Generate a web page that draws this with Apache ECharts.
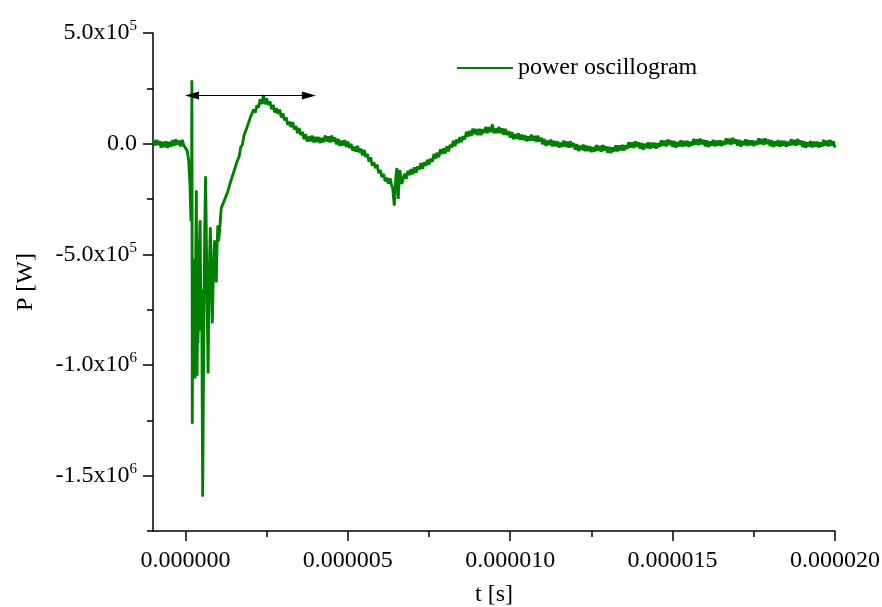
<!DOCTYPE html>
<html>
<head>
<meta charset="utf-8">
<script src="https://cdn.jsdelivr.net/npm/echarts@6/dist/echarts.min.js"></script>
<style>html,body{margin:0;padding:0;background:#fff}#c{width:882px;height:607px}</style>
</head>
<body>
<div id="c"></div>
<script>
// time in microseconds, power in kW  (pairs [t_us, P_kW])
const baseline = [[-1.00,14],[-0.95,-9],[-0.90,17],[-0.85,-6],[-0.80,12],[-0.75,-18],[-0.70,8],[-0.65,-15],[-0.60,11],[-0.55,-19],[-0.50,7],[-0.45,-13],[-0.40,16],[-0.35,-10],[-0.30,20],[-0.25,-5],[-0.20,14],[-0.15,-12],[-0.10,17],[-0.05,-9],[0.00,-15]];
const collapse = [[0.05,-30],[0.1,-80],[0.14,-190],[0.17,-350],[0.185,-240],[0.19,-150],[0.197,287],[0.203,-200],[0.21,-1265],[0.218,-620],[0.226,-980],[0.234,-560],[0.242,-1010],[0.25,-600],[0.26,-900],[0.27,-520],[0.283,-980],[0.296,-1061],[0.31,-640],[0.333,-210],[0.345,-560],[0.357,-1049],[0.37,-780],[0.385,-900],[0.404,-708],[0.42,-520],[0.45,-346],[0.465,-620],[0.48,-844],[0.50,-660],[0.53,-1595],[0.56,-920],[0.59,-420],[0.62,-147],[0.65,-520],[0.697,-1038],[0.72,-690],[0.765,-378],[0.79,-580],[0.826,-812],[0.86,-560],[0.897,-437],[0.92,-540],[0.949,-627],[0.97,-470],[0.999,-369],[1.02,-440],[1.05,-395]];
const recovery = [[1.10,-292],[1.15,-288],[1.20,-255],[1.25,-249],[1.30,-217],[1.35,-208],[1.40,-167],[1.45,-159],[1.50,-122],[1.55,-115],[1.60,-76],[1.65,-60],[1.70,-16],[1.75,-6],[1.80,36],[1.85,44],[1.90,76],[1.95,83],[2.00,120],
  [2.05,114],[2.10,154],[2.15,140],[2.20,173],[2.25,163],[2.30,200],[2.35,179],[2.40,220],[2.45,178],[2.50,205],[2.55,175],[2.60,191],[2.65,156],[2.70,176],[2.75,141],[2.80,160],[2.85,135],[2.90,154],[2.95,118],[3.00,137],
  [3.05,105],[3.10,119],[3.15,85],[3.20,100],[3.25,75],[3.30,98],[3.35,64],[3.40,80],[3.45,47],[3.50,71],[3.55,39],[3.60,53],[3.65,20],[3.70,43],[3.75,10],[3.80,32],[3.85,11],[3.90,36],[3.95,6],[4.00,31],
  [4.05,7],[4.10,30],[4.15,3],[4.20,26],[4.25,7],[4.30,37],[4.35,10],[4.40,33],[4.45,6],[4.50,36],[4.55,9],[4.60,28],[4.65,-3],[4.70,22],[4.75,-10],[4.80,13],[4.85,-8],[4.90,16],[4.95,-15],[5.00,9]];
const secondDip = [[5.05,-19],[5.10,-1],[5.15,-32],[5.20,-14],[5.25,-36],[5.30,-10],[5.35,-40],[5.40,-22],[5.45,-53],[5.50,-28],[5.55,-60],[5.60,-47],[5.65,-82],[5.70,-62],[5.75,-100],[5.80,-83],[5.85,-111],[5.90,-94],[5.95,-134],[6.00,-119],
  [6.05,-151],[6.10,-137],[6.15,-170],[6.20,-154],[6.25,-180],[6.30,-157],[6.35,-190],[6.38,-200],[6.41,-250],[6.43,-280],[6.45,-215],[6.48,-150],[6.51,-110],[6.53,-180],[6.55,-250],[6.58,-160],[6.60,-120],[6.63,-150],[6.66,-182],[6.70,-160],
  [6.75,-135],[6.80,-159],[6.85,-123],[6.90,-142],[6.95,-115],[7.00,-138]];
const secondRise = [[7.05,-107],[7.10,-132],[7.15,-103],[7.20,-117],[7.25,-88],[7.30,-114],[7.35,-83],[7.40,-100],[7.45,-73],[7.50,-94],[7.55,-68],[7.60,-82],[7.65,-47],[7.70,-68],[7.75,-40],[7.80,-61],[7.85,-26],[7.90,-47],[7.95,-21],[8.00,-44],
  [8.05,-12],[8.10,-35],[8.15,-5],[8.20,-18],[8.25,13],[8.30,-11],[8.35,20],[8.40,2],[8.45,29],[8.50,7],[8.55,34],[8.60,20],[8.65,54],[8.70,32],[8.75,58],[8.80,35],[8.85,68],[8.90,44],[8.95,66],[9.00,39],
  [9.05,67],[9.10,39],[9.15,66],[9.20,48],[9.25,76],[9.30,48],[9.35,75],[9.40,52],[9.45,87],[9.50,47],[9.55,68],[9.60,48],[9.65,76],[9.70,48],[9.75,69],[9.80,40],[9.85,67],[9.90,39],[9.95,57],[10.00,27]];
const tail = [[10.05,52],[10.10,20],[10.15,43],[10.20,23],[10.25,47],[10.30,17],[10.35,41],[10.40,17],[10.45,38],[10.50,11],[10.55,32],[10.60,13],[10.65,41],[10.70,14],[10.75,35],[10.80,8],[10.85,36],[10.90,9],[10.95,27],[11.00,-3],
  [11.05,21],[11.10,-10],[11.15,14],[11.20,-6],[11.25,18],[11.30,-12],[11.35,12],[11.40,-12],[11.45,10],[11.50,-17],[11.55,4],[11.60,-15],[11.65,14],[11.70,-13],[11.75,9],[11.80,-18],[11.85,11],[11.90,-16],[11.95,3],[12.00,-27],
  [12.05,-2],[12.10,-33],[12.15,-9],[12.20,-29],[12.25,-4],[12.30,-34],[12.35,-9],[12.40,-33],[12.45,-11],[12.50,-38],[12.55,-16],[12.60,-35],[12.65,-6],[12.70,-32],[12.75,-10],[12.80,-36],[12.85,-6],[12.90,-32],[12.95,-12],[13.00,-41],
  [13.05,-14],[13.10,-43],[13.15,-17],[13.20,-35],[13.25,-8],[13.30,-35],[13.35,-8],[13.40,-30],[13.45,-6],[13.50,-31],[13.55,-7],[13.60,-24],[13.65,7],[13.70,-18],[13.75,6],[13.80,-19],[13.85,11],[13.90,-14],[13.95,6],[14.00,-23],
  [14.05,3],[14.10,-27],[14.15,-1],[14.20,-20],[14.25,6],[14.30,-23],[14.35,4],[14.40,-19],[14.45,4],[14.50,-22],[14.55,2],[14.60,-15],[14.65,15],[14.70,-10],[14.75,14],[14.80,-12],[14.85,19],[14.90,-6],[14.95,14],[15.00,-14],
  [15.05,12],[15.10,-18],[15.15,7],[15.20,-12],[15.25,15],[15.30,-14],[15.35,12],[15.40,-11],[15.45,12],[15.50,-14],[15.55,9],[15.60,-9],[15.65,22],[15.70,-4],[15.75,19],[15.80,-7],[15.85,23],[15.90,-3],[15.95,17],[16.00,-12],
  [16.05,15],[16.10,-15],[16.15,10],[16.20,-9],[16.25,17],[16.30,-12],[16.35,14],[16.40,-9],[16.45,15],[16.50,-11],[16.55,12],[16.60,-6],[16.65,24],[16.70,-2],[16.75,22],[16.80,-4],[16.85,26],[16.90,0],[16.95,20],[17.00,-9],
  [17.05,17],[17.10,-13],[17.15,12],[17.20,-7],[17.25,19],[17.30,-10],[17.35,16],[17.40,-7],[17.45,15],[17.50,-11],[17.55,12],[17.60,-6],[17.65,24],[17.70,-2],[17.75,21],[17.80,-5],[17.85,24],[17.90,-2],[17.95,18],[18.00,-11],
  [18.05,15],[18.10,-15],[18.15,10],[18.20,-10],[18.25,16],[18.30,-13],[18.35,13],[18.40,-10],[18.45,12],[18.50,-14],[18.55,9],[18.60,-9],[18.65,20],[18.70,-6],[18.75,17],[18.80,-9],[18.85,21],[18.90,-5],[18.95,14],[19.00,-15],
  [19.05,11],[19.10,-19],[19.15,6],[19.20,-13],[19.25,12],[19.30,-17],[19.35,9],[19.40,-14],[19.45,9],[19.50,-17],[19.55,5],[19.60,-13],[19.65,17],[19.70,-9],[19.75,14],[19.80,-12],[19.85,17],[19.90,-9],[19.95,11],[20.00,-18]];

const xTickValues = [0, 5, 10, 15, 20];
const xTickLabels = ['0.000000', '0.000005', '0.000010', '0.000015', '0.000020'];
const xMinorValues = [2.5, 7.5, 12.5, 17.5];
const yTickValues = [-1500000, -1000000, -500000, 0, 500000];
const yTickLabels = ['-1.5x10{e|6}', '-1.0x10{e|6}', '-5.0x10{e|5}', '0.0', '5.0x10{e|5}'];
const yMinorValues = [-1750000, -1250000, -750000, -250000, 250000];
const arrowSpan = [0.2, 3.8];   // µs
const arrowLevel = 218;         // kW
const seriesName = 'power oscillogram';

const FONT = "'Liberation Serif','Times New Roman',serif";
const points = [].concat(baseline, collapse, recovery, secondDip, secondRise, tail)
  .map(p => [p[0], p[1] * 1000]);

const gridBox = { left: 153, right: 47, top: 33, bottom: 76, containLabel: false, outerBoundsMode: 'none' };
const axisLineStyle = { color: '#000', width: 1.5 };
const arrowHead = 'path://M-7,0 M7,14 M0,0 L4,14 L-4,14 Z';

const chart = echarts.init(document.getElementById('c'), null, { renderer: 'canvas' });
chart.setOption({
  animation: false,
  backgroundColor: '#fff',
  grid: [Object.assign({}, gridBox), Object.assign({}, gridBox)],
  legend: {
    data: [{ name: seriesName, icon: 'rect' }], left: 452, top: 51, itemWidth: 56, itemHeight: 2,
    itemStyle: { color: '#008000' },
    textStyle: { fontFamily: FONT, fontSize: 24, color: '#000' }, selectedMode: false
  },
  xAxis: [{
    type: 'value', gridIndex: 0, min: -1, max: 20, position: 'bottom',
    axisLine: { show: true, onZero: false, lineStyle: axisLineStyle },
    axisTick: { show: true, length: 10, customValues: xTickValues, lineStyle: axisLineStyle },
    axisLabel: {
      customValues: xTickValues, margin: 18, fontFamily: FONT, fontSize: 24, color: '#000',
      formatter: v => { const i = xTickValues.indexOf(v); return i >= 0 ? xTickLabels[i] : ''; }
    },
    splitLine: { show: false },
    name: 't [s]', nameLocation: 'middle', nameGap: 52,
    nameTextStyle: { fontFamily: FONT, fontSize: 24, color: '#000' }
  }, {
    type: 'value', gridIndex: 1, min: -1, max: 20, position: 'bottom',
    axisLine: { show: false, onZero: false },
    axisTick: { show: true, length: 6, customValues: xMinorValues, lineStyle: axisLineStyle },
    axisLabel: { show: false }, splitLine: { show: false }
  }],
  yAxis: [{
    type: 'value', gridIndex: 0, min: -1750000, max: 500000, position: 'left',
    axisLine: { show: true, onZero: false, lineStyle: axisLineStyle },
    axisTick: { show: true, length: 10, customValues: yTickValues, lineStyle: axisLineStyle },
    axisLabel: {
      customValues: yTickValues, margin: 16, fontFamily: FONT, fontSize: 24, lineHeight: 28, color: '#000',
      formatter: v => { const i = yTickValues.indexOf(v); return i >= 0 ? yTickLabels[i] : ''; },
      rich: { e: { fontFamily: FONT, fontSize: 15, lineHeight: 15, verticalAlign: 'top', color: '#000' } }
    },
    splitLine: { show: false },
    name: 'P [W]', nameLocation: 'middle', nameGap: 115, nameRotate: 90,
    nameTextStyle: { fontFamily: FONT, fontSize: 24, color: '#000' }
  }, {
    type: 'value', gridIndex: 1, min: -1750000, max: 500000, position: 'left',
    axisLine: { show: false, onZero: false },
    axisTick: { show: true, length: 6, customValues: yMinorValues, lineStyle: axisLineStyle },
    axisLabel: { show: false }, splitLine: { show: false }
  }],
  series: [{
    name: seriesName, type: 'line', xAxisIndex: 0, yAxisIndex: 0,
    data: points, showSymbol: false, symbol: 'none', sampling: null,
    lineStyle: { color: '#008000', width: 2.9, join: 'bevel' }, itemStyle: { color: '#008000' },
    markLine: {
      silent: true, animation: false,
      symbol: [arrowHead, arrowHead],
      symbolSize: 14,
      label: { show: false },
      lineStyle: { color: '#000', width: 1.2, type: 'solid' },
      emphasis: { disabled: true },
      data: [[{ coord: [arrowSpan[0], arrowLevel * 1000] }, { coord: [arrowSpan[1], arrowLevel * 1000] }]]
    }
  }]
});
</script>
</body>
</html>
